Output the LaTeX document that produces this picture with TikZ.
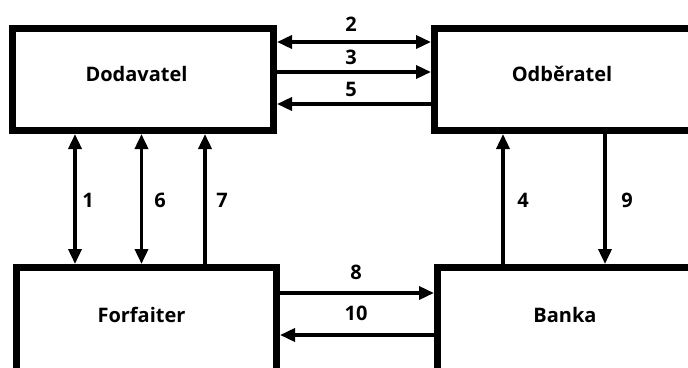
\documentclass[tikz,border=0pt]{standalone}
\usepackage{fontspec}
\setmainfont{Open Sans}
\usetikzlibrary{arrows.meta}
\begin{document}
\begin{tikzpicture}[x=1pt,y=-1pt,
  party/.style={draw=black,line width=7pt,inner sep=0pt,minimum width=#1},
  partytext/.style={font=\bfseries\fontsize{20}{24}\selectfont,inner sep=0pt},
  num/.style={font=\bfseries\fontsize{20}{24}\selectfont,inner sep=0pt},
  flow/.style={line width=3.5pt},
  tip/.tip={Triangle[length=15pt 0,width=13pt 0]}
]
\useasboundingbox (0,0) rectangle (688,367);
\clip (0,0) rectangle (688,367);

% the four parties
\node[party=261pt,minimum height=102.5pt] (dod) at (143,79.25) {};
\node[party=286pt,minimum height=102.5pt] (odb) at (577.5,79.25) {};
\node[party=260pt,minimum height=140pt] (forf) at (146.5,337.5) {};
\node[party=283pt,minimum height=140pt] (bank) at (579,337.5) {};

\node[partytext] (tdod)  at (136.5,74) {Dodavatel};
\node[partytext] (todb)  at (562,74) {Odběratel};
\node[partytext] (tforf) at (141.5,315) {Forfaiter};
\node[partytext] (tbank) at (565,315) {Banka};

% flows between Dodavatel and Odběratel
\draw[flow,tip-tip] (dod.east |- 0,42) -- (odb.west |- 0,42);
\draw[flow,-tip] (dod.east |- 0,72) -- (odb.west |- 0,72);
\draw[flow,-tip] (odb.west |- 0,104) -- (dod.east |- 0,104);
\node[num] (n2) at (351,24) {2};
\node[num] (n3) at (351,57) {3};
\node[num] (n5) at (351,89) {5};

% flows between Dodavatel and Forfaiter
\draw[flow,tip-tip] (dod.south -| 75,0) -- (forf.north -| 75,0);
\draw[flow,tip-tip] (dod.south -| 141.5,0) -- (forf.north -| 141.5,0);
\draw[flow,-tip] (forf.north -| 205,0) -- (dod.south -| 205,0);
\node[num] (n1) at (88,200) {1};
\node[num] (n6) at (160,200) {6};
\node[num] (n7) at (222,200) {7};

% flows between Odběratel and Banka
\draw[flow,-tip] (bank.north -| 503,0) -- (odb.south -| 503,0);
\draw[flow,-tip] (odb.south -| 605,0) -- (bank.north -| 605,0);
\node[num] (n4) at (523,200) {4};
\node[num] (n9) at (627,200) {9};

% flows between Forfaiter and Banka
\draw[flow,-tip] (forf.east |- 0,293) -- (bank.west |- 0,293);
\draw[flow,-tip] (bank.west |- 0,335) -- (forf.east |- 0,335);
\node[num] (n8) at (356,272) {8};
\node[num] (n10) at (356,313) {10};
\end{tikzpicture}
\end{document}
